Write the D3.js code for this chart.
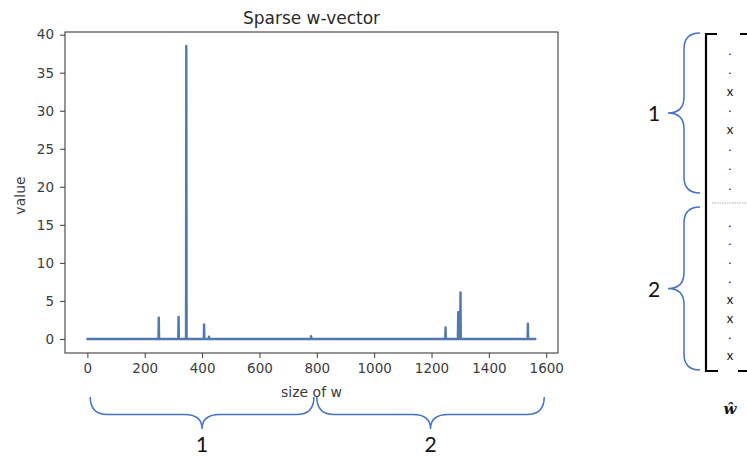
<!DOCTYPE html>
<html>
<head>
<meta charset="utf-8">
<script src="https://cdn.jsdelivr.net/npm/d3@7"></script>
<style>
  html, body { margin: 0; padding: 0; background: #fff; }
  svg { display: block; }
</style>
</head>
<body>
<svg id="chart" width="747" height="457"></svg>
<script>
// ---------------- data ----------------
const vectorLength = 1563;
const spikeIndex = [249, 318, 345, 407, 424, 780, 1249, 1293, 1301, 1536];
const spikeValue = [2.8, 2.9, 38.5, 1.9, 0.3, 0.35, 1.5, 3.5, 6.1, 2.0];
const xTicks = [0, 200, 400, 600, 800, 1000, 1200, 1400, 1600];
const yTicks = [0, 5, 10, 15, 20, 25, 30, 35, 40];
const groupLabels = ["1", "2"];
const groupRanges = [[10, 790], [800, 1600]];
const block1Symbols = [".", ".", "x", ".", "x", ".", ".", "."];
const block2Symbols = [".", ".", ".", ".", "x", "x", ".", "x"];

// sparse vector -> dense series
const wValues = new Array(vectorLength).fill(0);
spikeIndex.forEach((idx, k) => { wValues[idx] = spikeValue[k]; });

// ---------------- chart ----------------
const svg = d3.select("#chart");
const plot = { left: 65, right: 558, top: 32, bottom: 353 };
const axisColor = "#3c3c3c";
const tickFont = "DejaVu Sans, sans-serif";

const x = d3.scaleLinear().domain([-78, 1641]).range([plot.left, plot.right]);
const y = d3.scaleLinear().domain([-1.85, 40.35]).range([plot.bottom, plot.top]);

// line
const line = d3.line().x((d, i) => x(i)).y(d => y(d));
svg.append("path")
  .datum(wValues)
  .attr("d", line)
  .attr("fill", "none")
  .attr("stroke", "#5179aa")
  .attr("stroke-width", 2.4)
  .attr("stroke-linejoin", "round")
  .attr("stroke-linecap", "round");

// axes
const xAxis = d3.axisBottom(x).tickValues(xTicks).tickSize(5).tickPadding(5).tickFormat(d3.format("d"));
const yAxis = d3.axisLeft(y).tickValues(yTicks).tickSize(5).tickPadding(6).tickFormat(d3.format("d"));

const gx = svg.append("g").attr("transform", `translate(0,${plot.bottom})`).call(xAxis);
const gy = svg.append("g").attr("transform", `translate(${plot.left},0)`).call(yAxis);
[gx, gy].forEach(g => {
  g.select(".domain").remove();
  g.selectAll(".tick line").attr("stroke", axisColor).attr("stroke-width", 1);
  g.selectAll(".tick text").attr("fill", axisColor).style("font-family", tickFont).style("font-size", "13.5px");
});

// frame
svg.append("rect")
  .attr("x", plot.left).attr("y", plot.top)
  .attr("width", plot.right - plot.left).attr("height", plot.bottom - plot.top)
  .attr("fill", "none").attr("stroke", axisColor).attr("stroke-width", 1.1);

// titles
svg.append("text")
  .attr("x", (plot.left + plot.right) / 2).attr("y", 24)
  .attr("text-anchor", "middle")
  .style("font-family", tickFont).style("font-size", "17px")
  .attr("fill", "#2a2a2a")
  .text("Sparse w-vector");

svg.append("text")
  .attr("x", (plot.left + plot.right) / 2).attr("y", 397)
  .attr("text-anchor", "middle")
  .style("font-family", tickFont).style("font-size", "14px")
  .attr("fill", axisColor)
  .text("size of w");

svg.append("text")
  .attr("transform", `translate(25,${(plot.top + plot.bottom) / 2 + 3}) rotate(-90)`)
  .attr("text-anchor", "middle")
  .style("font-family", tickFont).style("font-size", "14px")
  .attr("fill", axisColor)
  .text("value");

// ---------------- braces ----------------
const braceColor = "#4472c4";
const labelFont = "Lato, 'Open Sans', sans-serif";

// horizontal brace opening upward, tip pointing down
function hBrace(x0, x1, yTop, depth) {
  const xm = (x0 + x1) / 2;
  const yMid = yTop + depth * 0.55;
  const yTip = yTop + depth;
  const r = depth * 0.55;
  return `M${x0},${yTop} Q${x0},${yMid} ${x0 + r},${yMid} L${xm - r},${yMid} Q${xm},${yMid} ${xm},${yTip}` +
         ` Q${xm},${yMid} ${xm + r},${yMid} L${x1 - r},${yMid} Q${x1},${yMid} ${x1},${yTop}`;
}
// vertical brace opening right, tip pointing left
function vBrace(xRight, y0, y1, depth) {
  const ym = (y0 + y1) / 2;
  const xMid = xRight - depth * 0.5;
  const xTip = xRight - depth;
  const r = depth * 0.5;
  return `M${xRight},${y0} Q${xMid},${y0} ${xMid},${y0 + r} L${xMid},${ym - r} Q${xMid},${ym} ${xTip},${ym}` +
         ` Q${xMid},${ym} ${xMid},${ym + r} L${xMid},${y1 - r} Q${xMid},${y1} ${xRight},${y1}`;
}

groupRanges.forEach((rg, i) => {
  const x0 = x(rg[0]);
  const x1 = x(rg[1]) - (i === 0 ? 0 : 2);
  svg.append("path")
    .attr("d", hBrace(x0, x1, 397, 32))
    .attr("fill", "none").attr("stroke", braceColor).attr("stroke-width", 1.5);
  svg.append("text")
    .attr("x", (x0 + x1) / 2).attr("y", 452)
    .attr("text-anchor", "middle")
    .style("font-family", labelFont).style("font-size", "21px")
    .attr("fill", "#111")
    .text(groupLabels[i]);
});

// ---------------- vector diagram ----------------
const vecX = 706;
const vecTop = 34, vecBottom = 371;
const dividerY = 203;
const b1 = d3.scalePoint().domain(d3.range(block1Symbols.length)).range([53, 188]);
const b2 = d3.scalePoint().domain(d3.range(block2Symbols.length)).range([225, 356]);

// bracket
svg.append("path")
  .attr("d", `M${vecX + 11},${vecTop} L${vecX},${vecTop} L${vecX},${vecBottom} L${vecX + 12},${vecBottom}`)
  .attr("fill", "none").attr("stroke", "#000").attr("stroke-width", 2.2);
svg.append("path")
  .attr("d", `M740,${vecTop} L747,${vecTop} M738,${vecBottom} L747,${vecBottom}`)
  .attr("fill", "none").attr("stroke", "#000").attr("stroke-width", 2.2);

// divider
svg.append("line")
  .attr("x1", 712).attr("x2", 747).attr("y1", dividerY).attr("y2", dividerY)
  .attr("stroke", "#999").attr("stroke-width", 0.8).attr("stroke-dasharray", "1.5,1");

function drawSymbols(symbols, scale) {
  symbols.forEach((s, i) => {
    const yy = scale(i);
    svg.append("text")
      .attr("x", 730).attr("y", s === "x" ? yy + 4 : yy + 1.5)
      .attr("text-anchor", "middle")
      .style("font-family", labelFont).style("font-size", s === "x" ? "13px" : "12px")
      .attr("fill", "#111")
      .text(s);
  });
}
drawSymbols(block1Symbols, b1);
drawSymbols(block2Symbols, b2);

// side braces
[[33, 193], [207, 370]].forEach((rg, i) => {
  svg.append("path")
    .attr("d", vBrace(700, rg[0], rg[1], 32))
    .attr("fill", "none").attr("stroke", braceColor).attr("stroke-width", 1.5);
  svg.append("text")
    .attr("x", 654).attr("y", (rg[0] + rg[1]) / 2 + 8)
    .attr("text-anchor", "middle")
    .style("font-family", labelFont).style("font-size", "21px")
    .attr("fill", "#111")
    .text(groupLabels[i]);
});

// w-hat label
svg.append("text")
  .attr("x", 730).attr("y", 414)
  .attr("text-anchor", "middle")
  .style("font-family", "'DejaVu Serif', serif").style("font-size", "15px")
  .style("font-weight", "bold").style("font-style", "italic")
  .attr("fill", "#111")
  .text("ŵ");
</script>
</body>
</html>
